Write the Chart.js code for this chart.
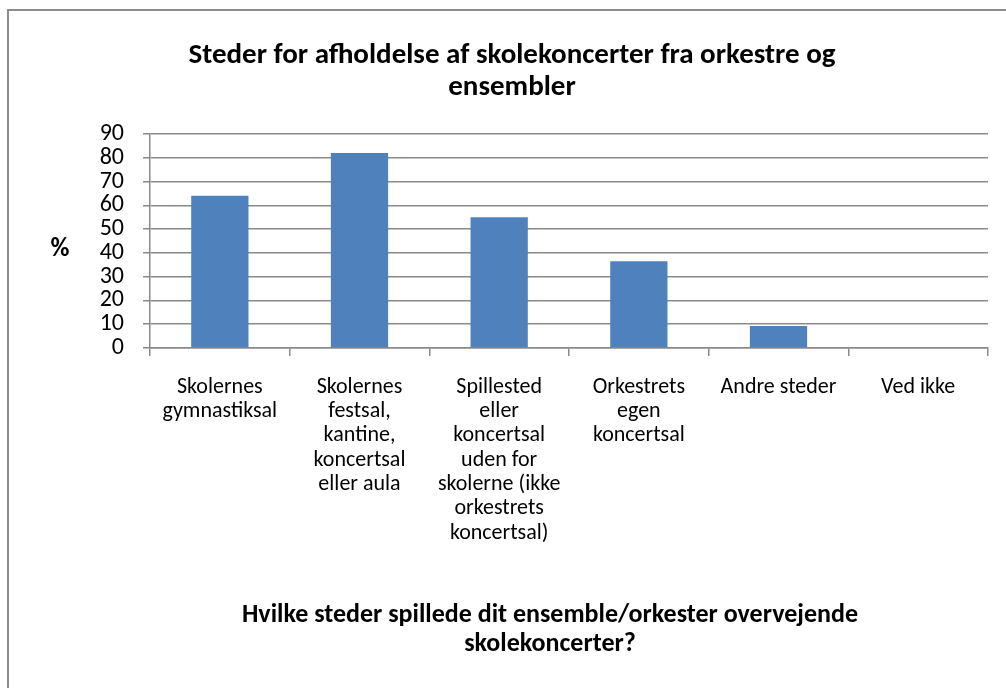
<!DOCTYPE html>
<html>
<head>
<meta charset="utf-8">
<script src="https://cdn.jsdelivr.net/npm/chart.js@4"></script>
<style>
  html, body { margin: 0; padding: 0; background: #fff; }
  #wrap { position: relative; width: 1006px; height: 688px; overflow: hidden; }
  #frame { position: absolute; left: 7px; top: 9px; width: 1100px; height: 800px; border: 2px solid #8c8c8c; box-sizing: border-box; }
  canvas { position: absolute; left: 0; top: 0; }
</style>
</head>
<body>
<div id="wrap">
  <div id="frame"></div>
  <canvas id="c" width="1006" height="688"></canvas>
</div>
<script>
const titleLines = ["Steder for afholdelse af skolekoncerter fra orkestre og", "ensembler"];
const xTitleLines = ["Hvilke steder spillede dit ensemble/orkester overvejende", "skolekoncerter?"];
const yTitle = "%";
const categories = [
  ["Skolernes", "gymnastiksal"],
  ["Skolernes", "festsal,", "kantine,", "koncertsal", "eller aula"],
  ["Spillested", "eller", "koncertsal", "uden for", "skolerne (ikke", "orkestrets", "koncertsal)"],
  ["Orkestrets", "egen", "koncertsal"],
  ["Andre steder"],
  ["Ved ikke"]
];
const values = [64, 82, 55, 36.5, 9.3, 0];
const yTicks = [0, 10, 20, 30, 40, 50, 60, 70, 80, 90];

const FONT = "Carlito, Calibri, Lato, 'Open Sans', sans-serif";
const gridColor = "#8a8a8a";

const textPlugin = {
  id: "texts",
  afterDraw(chart) {
    const ctx = chart.ctx;
    ctx.save();
    ctx.fillStyle = "#000";
    ctx.textAlign = "center";
    ctx.textBaseline = "middle";
    ctx.font = "bold 29px " + FONT;
    titleLines.forEach((t, i) => ctx.fillText(t, 512, 56 + i * 32));
    ctx.font = "bold 26px " + FONT;
    xTitleLines.forEach((t, i) => ctx.fillText(t, 550, 615 + i * 29));
    ctx.fillText(yTitle, 60, 249);
    ctx.restore();
  }
};

new Chart(document.getElementById("c"), {
  type: "bar",
  data: {
    labels: categories,
    datasets: [{
      data: values,
      backgroundColor: "#4f81bd",
      borderWidth: 0,
      categoryPercentage: 1.0,
      barPercentage: 0.41
    }]
  },
  options: {
    responsive: false,
    animation: false,
    layout: { padding: { top: 134, right: 18, left: 0, bottom: 0 } },
    plugins: { legend: { display: false }, tooltip: { enabled: false }, title: { display: false } },
    scales: {
      x: {
        afterFit(s) { s.height = 340; },
        offset: true,
        grid: { offset: true, drawOnChartArea: false, drawTicks: true, tickLength: 8, color: gridColor, lineWidth: 1.5 },
        border: { color: gridColor, width: 1.5 },
        ticks: { color: "#000", font: { family: FONT, size: 22, lineHeight: 1.105 }, padding: 19, maxRotation: 0, autoSkip: false }
      },
      y: {
        min: 0, max: 90,
        afterFit(s) { s.width = 150; },
        afterBuildTicks(s) { s.ticks = yTicks.map(v => ({ value: v })); },
        grid: { color: gridColor, lineWidth: 1.5, tickLength: 7, drawTicks: true },
        border: { color: gridColor, width: 1.5 },
        ticks: { color: "#000", font: { family: FONT, size: 24, lineHeight: 1.0 }, padding: 19, autoSkip: false }
      }
    }
  },
  plugins: [textPlugin]
});
</script>
</body>
</html>
